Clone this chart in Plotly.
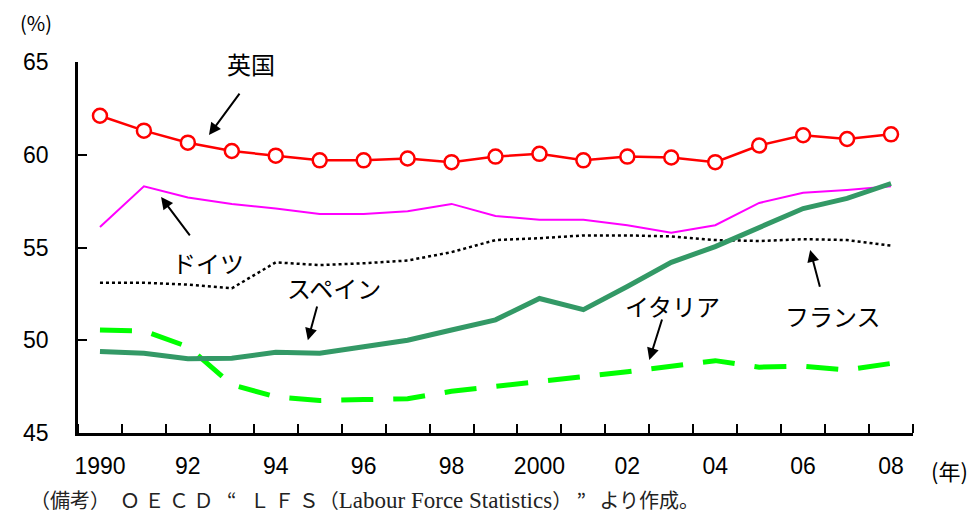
import plotly.graph_objects as go

years = list(range(1990, 2009))
year_labels = ["1990", "92", "94", "96", "98", "2000", "02", "04", "06", "08"]

uk = [62.1, 61.3, 60.65, 60.2, 59.95, 59.7, 59.7, 59.8, 59.6, 59.9,
      60.05, 59.7, 59.9, 59.85, 59.6, 60.5, 61.05, 60.85, 61.1]
germany = [56.1, 58.3, 57.7, 57.35, 57.1, 56.8, 56.8, 56.95, 57.35, 56.7,
           56.5, 56.5, 56.2, 55.8, 56.2, 57.4, 57.95, 58.1, 58.3]
france = [53.1, 53.1, 53.0, 52.8, 54.2, 54.05, 54.15, 54.3, 54.75, 55.4,
          55.5, 55.65, 55.65, 55.6, 55.4, 55.35, 55.45, 55.4, 55.1]
spain = [49.4, 49.3, 49.0, 49.03, 49.35, 49.3, 49.65, 50.0, 50.55, 51.1,
         52.25, 51.65, 52.9, 54.2, 55.05, 56.1, 57.1, 57.65, 58.45]
italy = [50.55, 50.5, 49.65, 47.6, 46.95, 46.75, 46.8, 46.85, 47.25, 47.5,
         47.8, 48.05, 48.3, 48.6, 48.9, 48.55, 48.6, 48.4, 48.75]

JP = "Noto Sans CJK JP"
TICK_FONT = "Liberation Sans, Arial, sans-serif"
SP = "\u00a0"

fig = go.Figure()
fig.add_trace(go.Scatter(x=years, y=france, mode="lines", name="フランス",
                         line=dict(color="black", width=2.5, dash="dot")))
fig.add_trace(go.Scatter(x=years, y=italy, mode="lines", name="イタリア",
                         line=dict(color="#00FF00", width=5, dash="32px,20px")))
fig.add_trace(go.Scatter(x=years, y=germany, mode="lines", name="ドイツ",
                         line=dict(color="#FF00FF", width=2)))
fig.add_trace(go.Scatter(x=years, y=spain, mode="lines", name="スペイン",
                         line=dict(color="#339966", width=5)))
fig.add_trace(go.Scatter(x=years, y=uk, mode="lines+markers", name="英国",
                         line=dict(color="#FF0000", width=2.5),
                         marker=dict(size=14, color="white",
                                     line=dict(color="#FF0000", width=2.5))))

# series labels: (text, label x, label y, arrow tail x, tail y, head x, head y)
labels = [
    ("英国", 1993.43, 64.9, 1993.2, 63.38, 1992.48, 61.06),
    ("ドイツ", 1992.45, 54.2, 1992.07, 55.57, 1991.39, 57.72),
    ("スペイン", 1995.32, 52.87, 1994.95, 51.9, 1994.73, 50.0),
    ("イタリア", 2003.02, 51.9, 2002.8, 51.2, 2002.5, 48.94),
    ("フランス", 2006.68, 51.36, 2006.39, 52.8, 2006.16, 54.87),
]
for text, lx, ly, tx, ty, hx, hy in labels:
    fig.add_annotation(x=hx, y=hy, ax=tx, ay=ty, axref="x", ayref="y",
                       xref="x", yref="y", text="", showarrow=True,
                       arrowhead=2, arrowsize=1.2, arrowwidth=2,
                       arrowcolor="black", standoff=0)
    fig.add_annotation(x=lx, y=ly, xref="x", yref="y", text=text,
                       showarrow=False, font=dict(family=JP, size=24, color="black"))

fig.add_annotation(x=-0.05, y=1.106, xref="paper", yref="paper", text="(%)",
                   showarrow=False, font=dict(family=JP, size=20, color="black"),
                   xanchor="center", yanchor="middle", borderpad=0)
fig.add_annotation(x=1.044, y=-0.1, xref="paper", yref="paper", text="(年)",
                   showarrow=False, font=dict(family=JP, size=22, color="black"),
                   xanchor="center", yanchor="middle")

note = ("（備考）\u3000Ｏ" + SP + "Ｅ" + SP + "Ｃ" + SP + "Ｄ" + SP * 3 + "“" + SP * 3
        + "Ｌ" + SP + "Ｆ" + SP + "Ｓ（"
        + "<span style='font-family:Liberation Serif;font-size:23px'>"
        + "Labour Force Statistics</span>）" + SP + "”" + SP * 3 + "より作成。")
fig.add_annotation(x=-0.06, y=-0.18, xref="paper", yref="paper", text=note,
                   showarrow=False, xanchor="left", yanchor="middle",
                   font=dict(family=JP, size=20, color="#222222"))

# the page adds an 8px body margin, so the figure is drawn 8px smaller
fig.update_layout(
    width=968, height=518,
    paper_bgcolor="white", plot_bgcolor="white",
    margin=dict(l=70, r=63, t=54, b=93),
    showlegend=False,
)
fig.update_xaxes(
    range=[1989.5, 2008.5], automargin=False,
    tickvals=years[::2], ticktext=year_labels, ticks="",
    ticklabelstandoff=11,
    tickfont=dict(family=TICK_FONT, size=23, color="black"),
    showline=True, linecolor="black", linewidth=2.5,
    showgrid=False, zeroline=False,
    minor=dict(tickvals=[y - 0.5 for y in years] + [2008.5], ticks="inside",
               ticklen=9, tickwidth=2, tickcolor="black", showgrid=False),
)
fig.update_yaxes(
    range=[45, 65], tickvals=[45, 50, 55, 60, 65], automargin=False,
    ticks="inside", ticklen=9, tickwidth=2, tickcolor="black",
    ticklabelstandoff=22,
    tickfont=dict(family=TICK_FONT, size=23, color="black"),
    showline=True, linecolor="black", linewidth=2.5,
    showgrid=False, zeroline=False,
)

fig.write_html("out.html")
